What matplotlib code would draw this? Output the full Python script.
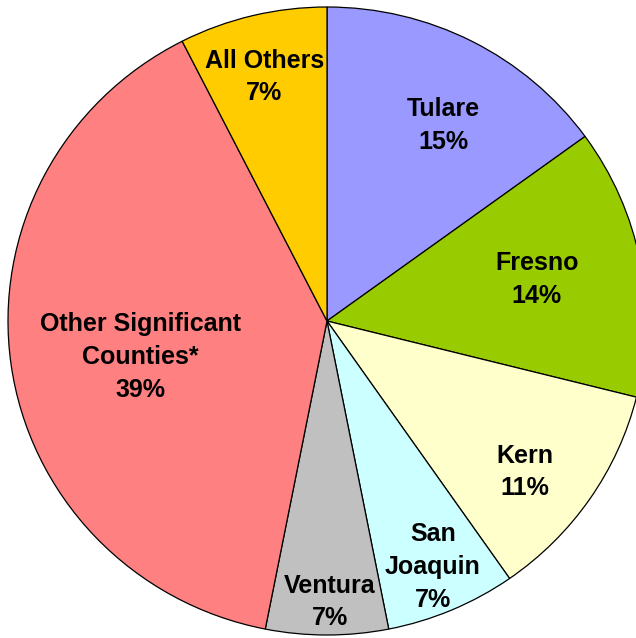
import matplotlib.pyplot as plt

# slices, clockwise from 12 o'clock
counties = ["Tulare", "Fresno", "Kern", "San\nJoaquin", "Ventura",
            "Other Significant\nCounties*", "All Others"]
shares = [15.0, 13.9, 11.4, 6.6, 6.2, 39.4, 7.5]
pct_labels = ["15%", "14%", "11%", "7%", "7%", "39%", "7%"]
colors = ["#9999FF", "#99CC00", "#FFFFCC", "#CCFFFF", "#C0C0C0", "#FF8080", "#FFCC00"]

# where each label sits (pie radius = 1)
label_xy = [(0.364, 0.624), (0.658, 0.131), (0.621, -0.481), (0.332, -0.783),
            (0.009, -0.895), (-0.586, -0.115), (-0.197, 0.777)]

W, H = 636, 638
fig = plt.figure(figsize=(W / 100, H / 100), dpi=100)
# pie box in pixels: left 8, top 7, width 638, height 628
ax = fig.add_axes([8 / W, (H - 635) / H, 638 / W, 628 / H])

wedges, _ = ax.pie(shares, colors=colors, startangle=90, counterclock=False,
                   wedgeprops=dict(edgecolor="black", linewidth=0.9))
ax.set_aspect("auto")
ax.set_xlim(-1, 1)
ax.set_ylim(-1, 1)
ax.axis("off")

for name, pct, (x, y) in zip(counties, pct_labels, label_xy):
    ax.text(x, y, name + "\n" + pct, ha="center", va="center",
            fontsize=18, fontweight="bold", family="Liberation Sans",
            linespacing=1.47)

fig.savefig("out.png", dpi=100)
